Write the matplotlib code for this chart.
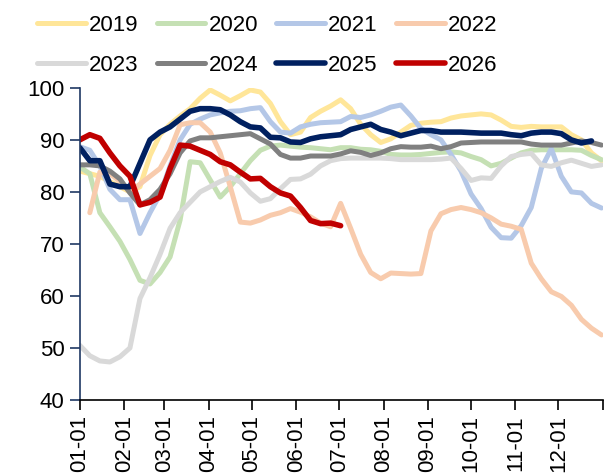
import numpy as np
import matplotlib.pyplot as plt

plt.rcParams['font.family'] = ['Liberation Sans', 'DejaVu Sans']

years = ['2019', '2020', '2021', '2022', '2023', '2024', '2025', '2026']
colors = ['#FFE699', '#C5E0B4', '#B4C7E7', '#F8CBAD', '#D9D9D9', '#808080', '#002060', '#C00000']

month_days = [0, 31, 59, 90, 120, 151, 181, 212, 243, 273, 304, 334, 365]
month_labels = ['01-01', '02-01', '03-01', '04-01', '05-01', '06-01',
                '07-01', '08-01', '09-01', '10-01', '11-01', '12-01', '']

# weekly values
y2019 = [84, 83.5, 83, 82, 81, 80, 81, 87, 91, 93, 94.6, 96, 98, 99.6, 98.6, 97.5, 98.5,
         99.6, 99.2, 97, 93.5, 91, 91.5, 94.3, 95.5, 96.5, 97.7, 96, 93, 91, 89.5, 90.2,
         91.5, 92.8, 93.2, 93.4, 93.5, 94.2, 94.6, 94.8, 95, 94.8, 93.8, 92.6, 92.4, 92.6,
         92.5, 92.5, 92.5, 91, 90, 87.5, 86]
y2020 = [84.8, 83.5, 76, 73.3, 70.5, 67, 63, 62.3, 64.5, 67.5, 74.6, 85.8, 85.6, 82.3, 79,
         81, 83.5, 86, 88, 88.8, 89, 88.8, 88.6, 88.5, 88.3, 88.1, 88.5, 88.5, 88.2, 88.1,
         87.8, 87.2, 87.1, 87.1, 87.2, 87.4, 87.6, 87.7, 87.5, 86.8, 86.2, 85, 85.5, 86.5,
         87.5, 88, 88.1, 88.1, 88.1, 88.1, 88, 87, 86.2]
y2021 = [88.7, 88, 85, 80.5, 78.5, 78.5, 72, 76, 79.5, 85, 90, 93, 94, 94.8, 95.2, 95.5,
         95.6, 96, 96.2, 93.5, 91.5, 91.3, 92.5, 93, 93.3, 93.4, 93.5, 94.5, 94.3, 94.8,
         95.5, 96.3, 96.7, 94.6, 92.2, 91, 90, 87.2, 84, 79.6, 76.8, 73.2, 71.2, 71.1, 73.5,
         77, 84.5, 88.3, 83, 80, 79.8, 77.8, 76.9]
y2022 = [np.nan, 76, 83.8, 83.5, 82, 80, 81.5, 83, 84.5, 88, 92.9, 93.3, 93.3, 91.5, 87.5,
         81, 74.2, 74, 74.6, 75.5, 76, 76.8, 76.1, 75.2, 74, 73.3, 77.8, 73, 68, 64.5, 63.3,
         64.4, 64.3, 64.2, 64.3, 72.5, 75.8, 76.6, 77, 76.6, 76, 75, 73.8, 73.4, 72.8, 66.3,
         63.3, 60.8, 59.9, 58.2, 55.5, 53.8, 52.5]
y2023 = [50.5, 48.5, 47.5, 47.3, 48.3, 50, 59.5, 63.5, 68, 73, 76, 78, 80, 81, 82, 82.8,
         81.9, 79.8, 78.2, 78.7, 80.6, 82.4, 82.5, 83.4, 85, 86, 86.4, 86.5, 86.5, 86.5,
         86.5, 86.4, 86.2, 86.2, 86.2, 86.2, 86.3, 86.5, 84.5, 82.2, 82.7, 82.6, 85, 86.8,
         87.2, 87.4, 85.2, 84.9, 85.6, 86.1, 85.5, 84.9, 85.2]
y2024 = [85.2, 85.2, 85, 84, 82.5, 79.8, 77.5, 78.5, 80.5, 83.5, 87.5, 89.8, 90.4, 90.4,
         90.6, 90.8, 91, 91.2, 90.2, 89.2, 87.2, 86.5, 86.5, 86.9, 86.9, 86.9, 87.3, 87.9,
         87.6, 87, 87.5, 88.3, 88.7, 88.6, 88.6, 88.8, 88.3, 88.7, 89.4, 89.5, 89.6, 89.6,
         89.6, 89.6, 89.6, 89.2, 89, 89, 89, 89.4, 89.8, 89.5, 89]
y2025 = [88.5, 86, 86, 81.5, 81, 81, 85.5, 90, 91.5, 92.5, 94, 95.5, 96, 96, 95.8, 94.8,
         93.5, 92.5, 92.3, 90.5, 90.4, 89.6, 89.5, 90.2, 90.6, 90.8, 91, 92, 92.5, 93, 92,
         91.5, 90.8, 91.3, 91.8, 91.8, 91.5, 91.5, 91.5, 91.4, 91.3, 91.3, 91.3, 91, 90.8,
         91.3, 91.5, 91.5, 91.2, 90, 89.4, 89.8]
y2026 = [90, 91, 90.3, 87.5, 85, 83, 77.5, 78, 79, 84.5, 89, 88.8, 88, 87.2, 85.8, 85.2,
         83.8, 82.5, 82.6, 81, 79.8, 79.2, 77, 74.5, 73.9, 74, 73.5]

series = [y2019, y2020, y2021, y2022, y2023, y2024, y2025, y2026]

fig = plt.figure(figsize=(6.09, 4.75), dpi=100)
ax = fig.add_axes([0.131, 0.158, 0.859, 0.657])

lines = []
for name, vals, c in zip(years, series, colors):
    days = np.arange(len(vals)) * 7
    lw = 4.0 if name in ('2025', '2026') else 3.6
    ln, = ax.plot(days, vals, color=c, lw=lw, label=name, solid_capstyle='round')
    lines.append(ln)

ax.set_xlim(0, 365)
ax.set_ylim(40, 100)
ax.set_yticks(range(40, 101, 10))
ax.set_xticks(month_days)
ax.set_xticklabels(month_labels, rotation=90, fontsize=16)
ax.tick_params(axis='y', labelsize=16, length=7, width=1.2, color='#1F3864', pad=4)
ax.tick_params(axis='x', length=7, width=1.2, pad=4)
ax.spines['top'].set_visible(False)
ax.spines['right'].set_visible(False)
ax.spines['left'].set_color('#1F3864')
ax.spines['left'].set_linewidth(1.2)
ax.spines['bottom'].set_linewidth(1.2)

# legend is filled column by column, so reorder to get rows 2019-2022 / 2023-2026
order = [0, 4, 1, 5, 2, 6, 3, 7]
fig.legend([lines[i] for i in order], [years[i] for i in order],
           ncol=4, loc='upper left', bbox_to_anchor=(0.028, 1.01), frameon=False,
           fontsize=16, handlelength=2.2, handletextpad=0.15, columnspacing=0.8,
           labelspacing=0.85)

fig.savefig('out.png', dpi=100)
